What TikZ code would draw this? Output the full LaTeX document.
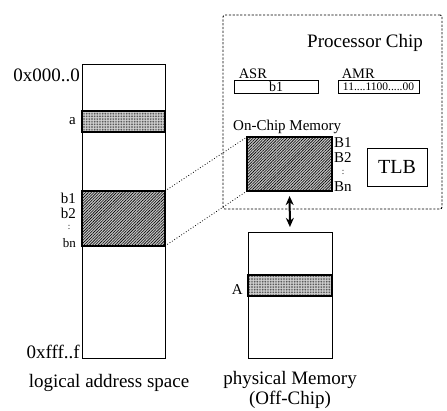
\documentclass[tikz,border=0pt]{standalone}
\usepackage{fontspec}
\setmainfont{Liberation Serif}
\usetikzlibrary{arrows.meta,positioning,patterns.meta}

\begin{document}
\begin{tikzpicture}[x=1pt, y=-1pt, >={Stealth[length=3.2mm,width=2.8mm]},
  mem/.style={rectangle, draw, line width=0.9pt, inner sep=0pt, outer sep=0pt, minimum width=83pt},
  dotband/.style={mem, line width=1.3pt, preaction={fill=gray!35},
                  pattern={Dots[distance=1.6pt,radius=0.4pt]}},
  hatchband/.style={mem, line width=1.3pt, preaction={fill=gray!45},
                    pattern={Lines[angle=45,distance=2pt,line width=0.6pt]}},
  reg/.style={rectangle, draw, line width=0.9pt, inner sep=0pt, minimum height=13pt},
  chipbox/.style={rectangle, draw, line width=0.9pt, dash pattern=on 2.2pt off 1.6pt,
                  rounded corners=2pt, minimum width=219pt, minimum height=194pt},
  lbl/.style={inner sep=1pt, font=\fontsize{15}{17}\selectfont},
  vdots/.style={inner sep=0pt, font=\fontsize{9}{10}\selectfont},
  big/.style={inner sep=1pt, font=\fontsize{19}{21}\selectfont}]
  \useasboundingbox (0,0) rectangle (447,411);

  % processor chip
  \node[chipbox] (chip) at (332.5,112) {};
  \node[big] (chiptitle) at (365,43) {Processor Chip};
  \node[reg, minimum width=84pt, font=\fontsize{14}{16}\selectfont] (asr) at (276,86.5) {b1};
  \node[reg, minimum width=81pt, font=\fontsize{11.5}{13}\selectfont] (amr) at (378.5,86.5) {11....1100.....00};
  \node[lbl, font=\fontsize{14.5}{16}\selectfont, anchor=south west] at ([xshift=4pt]asr.north west) {ASR};
  \node[lbl, font=\fontsize{14.5}{16}\selectfont, anchor=south west] at ([xshift=3pt]amr.north west) {AMR};
  \node[lbl, anchor=west] (onchiplbl) at (232,127) {On-Chip Memory};
  \node[hatchband, minimum width=85pt, minimum height=54pt] (onchip) at (289.5,164) {};
  \node[lbl, anchor=west] (B1) at (333,143) {B1};
  \node[lbl, anchor=west] (B2) at (333,158) {B2};
  \node[vdots] at (343,172) {:};
  \node[lbl, anchor=west] (Bn) at (333,187) {Bn};
  \node[reg, minimum width=60pt, minimum height=38pt, font=\fontsize{20}{22}\selectfont] (tlb) at (397,167) {TLB};

  % logical address space
  \node[mem, minimum height=294pt] (logical) at (123.5,211) {};
  \node[dotband, minimum height=21pt] (bandA) at (123.5,121.5) {};
  \node[hatchband, minimum height=55pt] (bandB) at (123.5,218.5) {};
  \node[big, anchor=east] at (81,75) {0x000..0};
  \node[big, anchor=east] at (81,352) {0xfff..f};
  \node[lbl, anchor=east] at (77,121) {a};
  \node[lbl, anchor=east] at (77,198) {b1};
  \node[lbl, anchor=east] at (77,213) {b2};
  \node[vdots] at (69,227) {:};
  \node[lbl, font=\fontsize{13}{15}\selectfont, anchor=east] at (77,243) {bn};
  \node[big] at (109,383) {logical address space};

  % physical memory
  \node[mem, minimum width=84pt, minimum height=126pt] (physical) at (290,295) {};
  \node[dotband, minimum width=84pt, minimum height=21pt] (bandP) at (290,285.5) {};
  \node[lbl, anchor=east] at (244,290) {A};
  \node[big] (physlbl) at (290,380) {physical Memory};
  \node[big, below=0pt of physlbl] {(Off-Chip)};

  % mapping and transfer
  \draw[dotted, line width=0.8pt] (bandB.north east) -- (onchip.north west);
  \draw[dotted, line width=0.8pt] (bandB.south east) -- (onchip.south west);
  \draw[<->, line width=2pt, shorten <=5pt, shorten >=5pt] (onchip.south) -- (physical.north);
\end{tikzpicture}
\end{document}
